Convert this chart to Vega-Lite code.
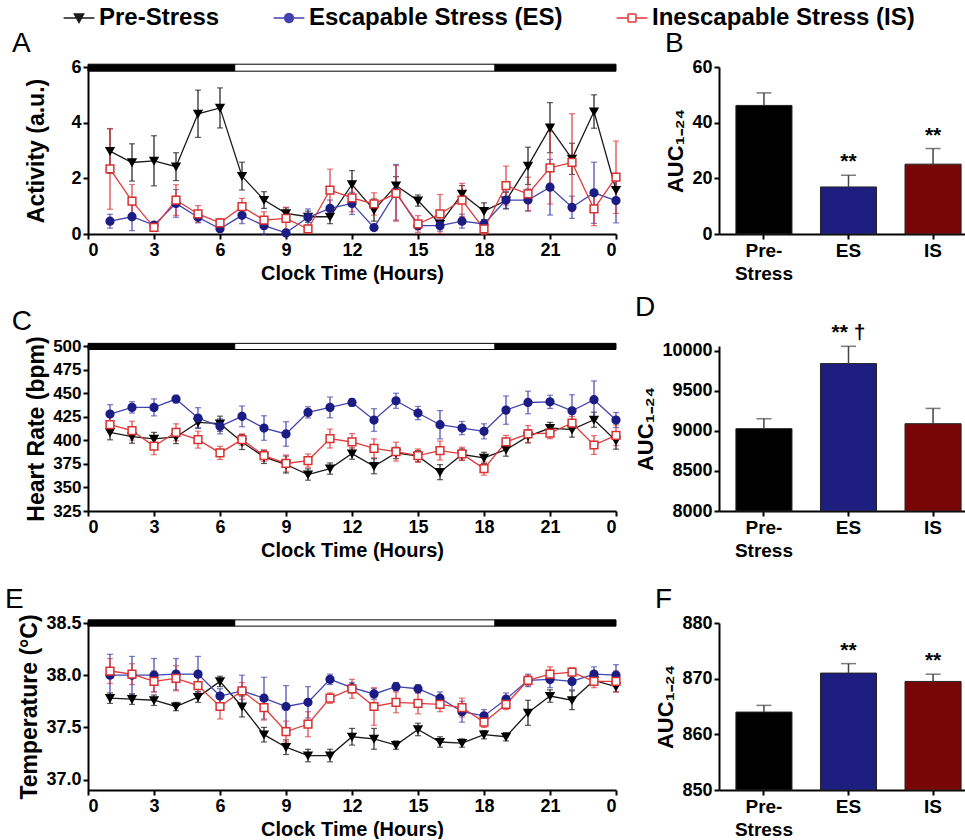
{
"$schema": "https://vega.github.io/schema/vega-lite/v6.json",
"padding": {"left": 4, "top": 6, "right": 0, "bottom": 0},
"config": {
 "font": "Liberation Sans",
 "view": {"stroke": null},
 "axis": {"domainColor": "black", "domainWidth": 2, "tickColor": "black", "tickWidth": 2, "tickSize": 5, "labelFontSize": 18, "labelFontWeight": "bold", "labelColor": "black", "titleFontSize": 20, "titleFontWeight": "bold", "titleColor": "black", "grid": false, "labelPadding": 2, "titlePadding": 4, "labelFont": "Liberation Sans", "titleFont": "Liberation Sans", "labelOverlap": false},
 "title": {"fontSize": 28, "font": "Liberation Sans", "fontWeight": "normal", "anchor": "start", "frame": "bounds", "offset": 0, "dy": 4, "color": "black"},
 "legend": {"layout": {"top": {"anchor": "middle"}}}
},
"datasets": {
 "lights": [{"start": 0, "end": 6.67, "phase": "dark"}, {"start": 6.67, "end": 18.5, "phase": "light"}, {"start": 18.5, "end": 24, "phase": "dark"}],
 "act": [
  {"hour":1,"group":"Pre-Stress","mean":2.98,"sem":0.8},{"hour":2,"group":"Pre-Stress","mean":2.57,"sem":0.67},{"hour":3,"group":"Pre-Stress","mean":2.63,"sem":0.9},{"hour":4,"group":"Pre-Stress","mean":2.42,"sem":0.5},{"hour":5,"group":"Pre-Stress","mean":4.32,"sem":0.85},{"hour":6,"group":"Pre-Stress","mean":4.53,"sem":0.72},{"hour":7,"group":"Pre-Stress","mean":2.08,"sem":0.5},{"hour":8,"group":"Pre-Stress","mean":1.22,"sem":0.3},{"hour":9,"group":"Pre-Stress","mean":0.74,"sem":0.2},{"hour":10,"group":"Pre-Stress","mean":0.62,"sem":0.2},{"hour":11,"group":"Pre-Stress","mean":0.62,"sem":0.25},{"hour":12,"group":"Pre-Stress","mean":1.78,"sem":0.5},{"hour":13,"group":"Pre-Stress","mean":0.86,"sem":0.4},{"hour":14,"group":"Pre-Stress","mean":1.74,"sem":0.32},{"hour":15,"group":"Pre-Stress","mean":1.2,"sem":0.2},{"hour":16,"group":"Pre-Stress","mean":0.36,"sem":0.15},{"hour":17,"group":"Pre-Stress","mean":1.44,"sem":0.3},{"hour":18,"group":"Pre-Stress","mean":0.82,"sem":0.3},{"hour":19,"group":"Pre-Stress","mean":1.2,"sem":0.3},{"hour":20,"group":"Pre-Stress","mean":2.45,"sem":0.67},{"hour":21,"group":"Pre-Stress","mean":3.82,"sem":0.9},{"hour":22,"group":"Pre-Stress","mean":2.7,"sem":0.56},{"hour":23,"group":"Pre-Stress","mean":4.4,"sem":0.6},{"hour":24,"group":"Pre-Stress","mean":1.58,"sem":0.4},
  {"hour":1,"group":"Escapable Stress (ES)","mean":0.46,"sem":0.25},{"hour":2,"group":"Escapable Stress (ES)","mean":0.62,"sem":0.5},{"hour":3,"group":"Escapable Stress (ES)","mean":0.32,"sem":0.1},{"hour":4,"group":"Escapable Stress (ES)","mean":1.1,"sem":0.5},{"hour":5,"group":"Escapable Stress (ES)","mean":0.6,"sem":0.2},{"hour":6,"group":"Escapable Stress (ES)","mean":0.19,"sem":0.1},{"hour":7,"group":"Escapable Stress (ES)","mean":0.67,"sem":0.3},{"hour":8,"group":"Escapable Stress (ES)","mean":0.3,"sem":0.3},{"hour":9,"group":"Escapable Stress (ES)","mean":0.04,"sem":0.05},{"hour":10,"group":"Escapable Stress (ES)","mean":0.6,"sem":0.3},{"hour":11,"group":"Escapable Stress (ES)","mean":0.92,"sem":0.3},{"hour":12,"group":"Escapable Stress (ES)","mean":1.1,"sem":0.4},{"hour":13,"group":"Escapable Stress (ES)","mean":0.23,"sem":0.1},{"hour":14,"group":"Escapable Stress (ES)","mean":1.5,"sem":1.0},{"hour":15,"group":"Escapable Stress (ES)","mean":0.3,"sem":0.15},{"hour":16,"group":"Escapable Stress (ES)","mean":0.3,"sem":0.2},{"hour":17,"group":"Escapable Stress (ES)","mean":0.46,"sem":0.25},{"hour":18,"group":"Escapable Stress (ES)","mean":0.36,"sem":0.15},{"hour":19,"group":"Escapable Stress (ES)","mean":1.22,"sem":0.3},{"hour":20,"group":"Escapable Stress (ES)","mean":1.22,"sem":0.4},{"hour":21,"group":"Escapable Stress (ES)","mean":1.68,"sem":1.0},{"hour":22,"group":"Escapable Stress (ES)","mean":0.96,"sem":0.4},{"hour":23,"group":"Escapable Stress (ES)","mean":1.48,"sem":1.1},{"hour":24,"group":"Escapable Stress (ES)","mean":1.2,"sem":0.8},
  {"hour":1,"group":"Inescapable Stress (IS)","mean":2.34,"sem":1.45},{"hour":2,"group":"Inescapable Stress (IS)","mean":1.18,"sem":0.6},{"hour":3,"group":"Inescapable Stress (IS)","mean":0.24,"sem":0.1},{"hour":4,"group":"Inescapable Stress (IS)","mean":1.22,"sem":0.55},{"hour":5,"group":"Inescapable Stress (IS)","mean":0.72,"sem":0.3},{"hour":6,"group":"Inescapable Stress (IS)","mean":0.4,"sem":0.15},{"hour":7,"group":"Inescapable Stress (IS)","mean":0.98,"sem":0.3},{"hour":8,"group":"Inescapable Stress (IS)","mean":0.5,"sem":0.3},{"hour":9,"group":"Inescapable Stress (IS)","mean":0.56,"sem":0.4},{"hour":10,"group":"Inescapable Stress (IS)","mean":0.18,"sem":0.1},{"hour":11,"group":"Inescapable Stress (IS)","mean":1.58,"sem":0.75},{"hour":12,"group":"Inescapable Stress (IS)","mean":1.3,"sem":0.5},{"hour":13,"group":"Inescapable Stress (IS)","mean":1.08,"sem":0.4},{"hour":14,"group":"Inescapable Stress (IS)","mean":1.46,"sem":1.0},{"hour":15,"group":"Inescapable Stress (IS)","mean":0.36,"sem":0.3},{"hour":16,"group":"Inescapable Stress (IS)","mean":0.72,"sem":0.7},{"hour":17,"group":"Inescapable Stress (IS)","mean":1.22,"sem":0.6},{"hour":18,"group":"Inescapable Stress (IS)","mean":0.18,"sem":0.2},{"hour":19,"group":"Inescapable Stress (IS)","mean":1.74,"sem":0.7},{"hour":20,"group":"Inescapable Stress (IS)","mean":1.44,"sem":0.6},{"hour":21,"group":"Inescapable Stress (IS)","mean":2.38,"sem":1.3},{"hour":22,"group":"Inescapable Stress (IS)","mean":2.57,"sem":1.75},{"hour":23,"group":"Inescapable Stress (IS)","mean":0.9,"sem":0.6},{"hour":24,"group":"Inescapable Stress (IS)","mean":2.04,"sem":1.3}
 ],
 "hr": [
  {"hour":1,"group":"Pre-Stress","mean":408.5,"sem":8},{"hour":2,"group":"Pre-Stress","mean":403.9,"sem":7},{"hour":3,"group":"Pre-Stress","mean":401.4,"sem":7},{"hour":4,"group":"Pre-Stress","mean":403.5,"sem":7},{"hour":5,"group":"Pre-Stress","mean":419,"sem":6},{"hour":6,"group":"Pre-Stress","mean":417.6,"sem":8},{"hour":7,"group":"Pre-Stress","mean":398.2,"sem":8},{"hour":8,"group":"Pre-Stress","mean":382.4,"sem":7},{"hour":9,"group":"Pre-Stress","mean":374.3,"sem":9},{"hour":10,"group":"Pre-Stress","mean":363.7,"sem":6},{"hour":11,"group":"Pre-Stress","mean":370,"sem":6},{"hour":12,"group":"Pre-Stress","mean":385.9,"sem":6},{"hour":13,"group":"Pre-Stress","mean":372.5,"sem":8},{"hour":14,"group":"Pre-Stress","mean":386.6,"sem":6},{"hour":15,"group":"Pre-Stress","mean":383.1,"sem":6},{"hour":16,"group":"Pre-Stress","mean":366.2,"sem":8},{"hour":17,"group":"Pre-Stress","mean":384.9,"sem":6},{"hour":18,"group":"Pre-Stress","mean":381.3,"sem":6},{"hour":19,"group":"Pre-Stress","mean":390.1,"sem":7},{"hour":20,"group":"Pre-Stress","mean":404.2,"sem":7},{"hour":21,"group":"Pre-Stress","mean":413,"sem":6},{"hour":22,"group":"Pre-Stress","mean":411.3,"sem":8},{"hour":23,"group":"Pre-Stress","mean":421.8,"sem":8},{"hour":24,"group":"Pre-Stress","mean":399.6,"sem":9},
  {"hour":1,"group":"Escapable Stress (ES)","mean":427.8,"sem":10},{"hour":2,"group":"Escapable Stress (ES)","mean":434.9,"sem":6},{"hour":3,"group":"Escapable Stress (ES)","mean":434.9,"sem":9},{"hour":4,"group":"Escapable Stress (ES)","mean":443.7,"sem":4},{"hour":5,"group":"Escapable Stress (ES)","mean":423.6,"sem":11},{"hour":6,"group":"Escapable Stress (ES)","mean":414.8,"sem":8},{"hour":7,"group":"Escapable Stress (ES)","mean":425.4,"sem":11},{"hour":8,"group":"Escapable Stress (ES)","mean":413,"sem":13},{"hour":9,"group":"Escapable Stress (ES)","mean":406.7,"sem":13},{"hour":10,"group":"Escapable Stress (ES)","mean":429.6,"sem":6},{"hour":11,"group":"Escapable Stress (ES)","mean":434.9,"sem":11},{"hour":12,"group":"Escapable Stress (ES)","mean":440.1,"sem":4},{"hour":13,"group":"Escapable Stress (ES)","mean":421.5,"sem":12},{"hour":14,"group":"Escapable Stress (ES)","mean":441.9,"sem":8},{"hour":15,"group":"Escapable Stress (ES)","mean":428.9,"sem":7},{"hour":16,"group":"Escapable Stress (ES)","mean":416.5,"sem":15},{"hour":17,"group":"Escapable Stress (ES)","mean":413,"sem":7},{"hour":18,"group":"Escapable Stress (ES)","mean":409.5,"sem":8},{"hour":19,"group":"Escapable Stress (ES)","mean":432,"sem":15},{"hour":20,"group":"Escapable Stress (ES)","mean":440.1,"sem":12},{"hour":21,"group":"Escapable Stress (ES)","mean":440.8,"sem":7},{"hour":22,"group":"Escapable Stress (ES)","mean":431.3,"sem":17},{"hour":23,"group":"Escapable Stress (ES)","mean":443,"sem":20},{"hour":24,"group":"Escapable Stress (ES)","mean":421.5,"sem":8},
  {"hour":1,"group":"Inescapable Stress (IS)","mean":416.5,"sem":8},{"hour":2,"group":"Inescapable Stress (IS)","mean":410.2,"sem":10},{"hour":3,"group":"Inescapable Stress (IS)","mean":393.7,"sem":9},{"hour":4,"group":"Inescapable Stress (IS)","mean":408.5,"sem":9},{"hour":5,"group":"Inescapable Stress (IS)","mean":400.7,"sem":9},{"hour":6,"group":"Inescapable Stress (IS)","mean":386.6,"sem":7},{"hour":7,"group":"Inescapable Stress (IS)","mean":400.7,"sem":6},{"hour":8,"group":"Inescapable Stress (IS)","mean":383.8,"sem":6},{"hour":9,"group":"Inescapable Stress (IS)","mean":375.4,"sem":9},{"hour":10,"group":"Inescapable Stress (IS)","mean":378.5,"sem":7},{"hour":11,"group":"Inescapable Stress (IS)","mean":401.8,"sem":10},{"hour":12,"group":"Inescapable Stress (IS)","mean":398.2,"sem":9},{"hour":13,"group":"Inescapable Stress (IS)","mean":391.5,"sem":10},{"hour":14,"group":"Inescapable Stress (IS)","mean":388,"sem":10},{"hour":15,"group":"Inescapable Stress (IS)","mean":383.8,"sem":7},{"hour":16,"group":"Inescapable Stress (IS)","mean":389.1,"sem":10},{"hour":17,"group":"Inescapable Stress (IS)","mean":385.6,"sem":7},{"hour":18,"group":"Inescapable Stress (IS)","mean":370,"sem":7},{"hour":19,"group":"Inescapable Stress (IS)","mean":398.2,"sem":7},{"hour":20,"group":"Inescapable Stress (IS)","mean":406.7,"sem":9},{"hour":21,"group":"Inescapable Stress (IS)","mean":407.7,"sem":6},{"hour":22,"group":"Inescapable Stress (IS)","mean":418.3,"sem":7},{"hour":23,"group":"Inescapable Stress (IS)","mean":395,"sem":10},{"hour":24,"group":"Inescapable Stress (IS)","mean":405.3,"sem":11}
 ],
 "temp": [
  {"hour":1,"group":"Pre-Stress","mean":37.78,"sem":0.05},{"hour":2,"group":"Pre-Stress","mean":37.77,"sem":0.05},{"hour":3,"group":"Pre-Stress","mean":37.76,"sem":0.05},{"hour":4,"group":"Pre-Stress","mean":37.7,"sem":0.04},{"hour":5,"group":"Pre-Stress","mean":37.79,"sem":0.05},{"hour":6,"group":"Pre-Stress","mean":37.94,"sem":0.05},{"hour":7,"group":"Pre-Stress","mean":37.7,"sem":0.1},{"hour":8,"group":"Pre-Stress","mean":37.43,"sem":0.07},{"hour":9,"group":"Pre-Stress","mean":37.31,"sem":0.07},{"hour":10,"group":"Pre-Stress","mean":37.23,"sem":0.06},{"hour":11,"group":"Pre-Stress","mean":37.23,"sem":0.06},{"hour":12,"group":"Pre-Stress","mean":37.41,"sem":0.08},{"hour":13,"group":"Pre-Stress","mean":37.39,"sem":0.1},{"hour":14,"group":"Pre-Stress","mean":37.33,"sem":0.04},{"hour":15,"group":"Pre-Stress","mean":37.48,"sem":0.06},{"hour":16,"group":"Pre-Stress","mean":37.36,"sem":0.05},{"hour":17,"group":"Pre-Stress","mean":37.35,"sem":0.04},{"hour":18,"group":"Pre-Stress","mean":37.43,"sem":0.04},{"hour":19,"group":"Pre-Stress","mean":37.41,"sem":0.04},{"hour":20,"group":"Pre-Stress","mean":37.64,"sem":0.12},{"hour":21,"group":"Pre-Stress","mean":37.8,"sem":0.06},{"hour":22,"group":"Pre-Stress","mean":37.76,"sem":0.09},{"hour":23,"group":"Pre-Stress","mean":37.95,"sem":0.03},{"hour":24,"group":"Pre-Stress","mean":37.89,"sem":0.05},
  {"hour":1,"group":"Escapable Stress (ES)","mean":38.0,"sem":0.2},{"hour":2,"group":"Escapable Stress (ES)","mean":38.0,"sem":0.18},{"hour":3,"group":"Escapable Stress (ES)","mean":38.0,"sem":0.16},{"hour":4,"group":"Escapable Stress (ES)","mean":38.01,"sem":0.15},{"hour":5,"group":"Escapable Stress (ES)","mean":38.01,"sem":0.17},{"hour":6,"group":"Escapable Stress (ES)","mean":37.8,"sem":0.07},{"hour":7,"group":"Escapable Stress (ES)","mean":37.85,"sem":0.15},{"hour":8,"group":"Escapable Stress (ES)","mean":37.78,"sem":0.2},{"hour":9,"group":"Escapable Stress (ES)","mean":37.7,"sem":0.2},{"hour":10,"group":"Escapable Stress (ES)","mean":37.74,"sem":0.15},{"hour":11,"group":"Escapable Stress (ES)","mean":37.96,"sem":0.05},{"hour":12,"group":"Escapable Stress (ES)","mean":37.88,"sem":0.05},{"hour":13,"group":"Escapable Stress (ES)","mean":37.82,"sem":0.05},{"hour":14,"group":"Escapable Stress (ES)","mean":37.89,"sem":0.04},{"hour":15,"group":"Escapable Stress (ES)","mean":37.87,"sem":0.04},{"hour":16,"group":"Escapable Stress (ES)","mean":37.78,"sem":0.06},{"hour":17,"group":"Escapable Stress (ES)","mean":37.65,"sem":0.1},{"hour":18,"group":"Escapable Stress (ES)","mean":37.61,"sem":0.06},{"hour":19,"group":"Escapable Stress (ES)","mean":37.77,"sem":0.06},{"hour":20,"group":"Escapable Stress (ES)","mean":37.95,"sem":0.06},{"hour":21,"group":"Escapable Stress (ES)","mean":37.96,"sem":0.08},{"hour":22,"group":"Escapable Stress (ES)","mean":37.94,"sem":0.08},{"hour":23,"group":"Escapable Stress (ES)","mean":38.01,"sem":0.07},{"hour":24,"group":"Escapable Stress (ES)","mean":38.0,"sem":0.1},
  {"hour":1,"group":"Inescapable Stress (IS)","mean":38.04,"sem":0.12},{"hour":2,"group":"Inescapable Stress (IS)","mean":38.01,"sem":0.1},{"hour":3,"group":"Inescapable Stress (IS)","mean":37.94,"sem":0.1},{"hour":4,"group":"Inescapable Stress (IS)","mean":37.97,"sem":0.12},{"hour":5,"group":"Inescapable Stress (IS)","mean":37.9,"sem":0.1},{"hour":6,"group":"Inescapable Stress (IS)","mean":37.7,"sem":0.12},{"hour":7,"group":"Inescapable Stress (IS)","mean":37.85,"sem":0.08},{"hour":8,"group":"Inescapable Stress (IS)","mean":37.69,"sem":0.12},{"hour":9,"group":"Inescapable Stress (IS)","mean":37.46,"sem":0.1},{"hour":10,"group":"Inescapable Stress (IS)","mean":37.53,"sem":0.12},{"hour":11,"group":"Inescapable Stress (IS)","mean":37.78,"sem":0.05},{"hour":12,"group":"Inescapable Stress (IS)","mean":37.87,"sem":0.09},{"hour":13,"group":"Inescapable Stress (IS)","mean":37.7,"sem":0.18},{"hour":14,"group":"Inescapable Stress (IS)","mean":37.74,"sem":0.1},{"hour":15,"group":"Inescapable Stress (IS)","mean":37.73,"sem":0.1},{"hour":16,"group":"Inescapable Stress (IS)","mean":37.72,"sem":0.07},{"hour":17,"group":"Inescapable Stress (IS)","mean":37.69,"sem":0.09},{"hour":18,"group":"Inescapable Stress (IS)","mean":37.55,"sem":0.05},{"hour":19,"group":"Inescapable Stress (IS)","mean":37.72,"sem":0.05},{"hour":20,"group":"Inescapable Stress (IS)","mean":37.95,"sem":0.05},{"hour":21,"group":"Inescapable Stress (IS)","mean":38.01,"sem":0.07},{"hour":22,"group":"Inescapable Stress (IS)","mean":38.03,"sem":0.04},{"hour":23,"group":"Inescapable Stress (IS)","mean":37.94,"sem":0.06},{"hour":24,"group":"Inescapable Stress (IS)","mean":37.94,"sem":0.1}
 ],
 "aucAct": [{"cond": "Pre-Stress", "auc": 46.2, "hi": 50.7, "sig": ""}, {"cond": "ES", "auc": 16.9, "hi": 21.1, "sig": "**"}, {"cond": "IS", "auc": 25.1, "hi": 30.7, "sig": "**"}],
 "aucHR": [{"cond": "Pre-Stress", "auc": 9029, "hi": 9153, "sig": ""}, {"cond": "ES", "auc": 9842, "hi": 10058, "sig": "** †"}, {"cond": "IS", "auc": 9091, "hi": 9282, "sig": ""}],
 "aucTemp": [{"cond": "Pre-Stress", "auc": 864.0, "hi": 865.2, "sig": ""}, {"cond": "ES", "auc": 871.0, "hi": 872.7, "sig": "**"}, {"cond": "IS", "auc": 869.5, "hi": 870.8, "sig": "**"}]
},
"columns": 2,
"align": "each",
"bounds": "flush",
"spacing": {"row": 112, "column": 103},
"resolve": {"scale": {"x": "independent", "y": "independent"}},
"concat": [
 {
  "width": 528, "height": 167,
  "title": {"text": "A", "dx": -14},
  "layer": [
   {"data": {"name": "lights"}, "mark": {"type": "rect", "stroke": "black", "strokeWidth": 1},
    "encoding": {
     "x": {"field": "start", "type": "quantitative", "title": "Clock Time (Hours)", "scale": {"domain": [0, 24], "nice": false}, "axis": {"values": [0,3,6,9,12,15,18,21,24], "tickCount": 30, "format": "d", "labelExpr": "datum.value == 24 ? '0' : datum.label", "labelOverlap": false}},
     "x2": {"field": "end"},
     "y": {"datum": 6.1, "type": "quantitative", "title": "Activity (a.u.)", "scale": {"domain": [0, 6], "nice": false, "zero": false}, "axis": {"values": [0,2,4,6], "tickCount": 30, "format": "d", "titleFontSize": 23, "titlePadding": 22, "labelOverlap": false}},
     "y2": {"datum": 5.85},
     "fill": {"condition": {"test": "datum.phase === 'light'", "value": "white"}, "value": "black"}
    }},
   {"data": {"name": "act"}, "mark": {"type": "errorbar", "ticks": {"size": 6}, "thickness": 1.2},
    "encoding": {
     "x": {"field": "hour", "type": "quantitative", "title": "Clock Time (Hours)"},
     "y": {"field": "mean", "type": "quantitative", "title": "Activity (a.u.)"},
     "yError": {"field": "sem"},
     "color": {"field": "group", "type": "nominal", "sort": null,
      "scale": {"domain": ["Pre-Stress", "Escapable Stress (ES)", "Inescapable Stress (IS)"], "range": ["#1a1a1a", "#4242b0", "#e0393a"]},
      "legend": {"title": null, "orient": "top", "direction": "horizontal", "symbolSize": 484, "labelFontSize": 24, "labelFont": "Liberation Sans", "labelFontWeight": "bold", "labelColor": "black", "columnPadding": 50, "labelOffset": 8, "labelLimit": 500, "symbolStrokeWidth": 1.5, "symbolOpacity": 1, "offset": 0}
     }
    }},
   {"data": {"name": "act"}, "mark": {"type": "line", "strokeWidth": 1.3},
    "encoding": {
     "x": {"field": "hour", "type": "quantitative", "title": "Clock Time (Hours)"},
     "y": {"field": "mean", "type": "quantitative", "title": "Activity (a.u.)"},
     "color": {"field": "group", "type": "nominal", "sort": null}
    }},
   {"data": {"name": "act"}, "mark": {"type": "point", "size": 60, "strokeWidth": 1.5, "opacity": 1},
    "encoding": {
     "x": {"field": "hour", "type": "quantitative", "title": "Clock Time (Hours)"},
     "y": {"field": "mean", "type": "quantitative", "title": "Activity (a.u.)"},
     "shape": {"condition": [{"test": "datum.group === 'Pre-Stress'", "value": "triangle-down"}, {"test": "datum.group === 'Escapable Stress (ES)'", "value": "circle"}], "value": "square"},
     "fill": {"condition": [{"test": "datum.group === 'Pre-Stress'", "value": "black"}, {"test": "datum.group === 'Escapable Stress (ES)'", "value": "#1c1c85"}], "value": "white"},
     "stroke": {"condition": [{"test": "datum.group === 'Pre-Stress'", "value": "black"}, {"test": "datum.group === 'Escapable Stress (ES)'", "value": "#1c1c85"}], "value": "#d93030"}
    }},
   {"data": {"name": "act"}, "mark": {"type": "point", "filled": false, "opacity": 0, "size": 10},
    "encoding": {
     "x": {"field": "hour", "type": "quantitative", "title": "Clock Time (Hours)"},
     "y": {"field": "mean", "type": "quantitative", "title": "Activity (a.u.)"},
     "color": {"field": "group", "type": "nominal", "sort": null},
     "shape": {"field": "group", "type": "nominal", "sort": null,
      "scale": {"domain": ["Pre-Stress", "Escapable Stress (ES)", "Inescapable Stress (IS)"], "range": [
       "M-1.4,0H1.4M-0.42,-0.36H0.42L0,0.4ZM-0.28,-0.27H0.28L0,0.22ZM-0.14,-0.19H0.14L0,0.05Z",
       "M-1.4,0H1.4M-0.4,0A0.4,0.4,0,1,0,0.4,0A0.4,0.4,0,1,0,-0.4,0ZM-0.27,0A0.27,0.27,0,1,0,0.27,0A0.27,0.27,0,1,0,-0.27,0ZM-0.14,0A0.14,0.14,0,1,0,0.14,0A0.14,0.14,0,1,0,-0.14,0Z",
       "M-1.4,0H-0.36M0.36,0H1.4M-0.36,-0.36H0.36M0.36,-0.36V0.36M0.36,0.36H-0.36M-0.36,0.36V-0.36"]},
      "legend": {"title": null, "orient": "top", "direction": "horizontal", "symbolSize": 484, "labelFontSize": 24, "labelFont": "Liberation Sans", "labelFontWeight": "bold", "labelColor": "black", "columnPadding": 50, "labelOffset": 8, "labelLimit": 500, "symbolStrokeWidth": 1.5, "symbolOpacity": 1, "offset": 0}}
    }}
  ]
 },
 {
  "width": 259, "height": 167,
  "title": {"text": "B"},
  "data": {"name": "aucAct"},
  "encoding": {"x": {"field": "cond", "type": "nominal", "sort": null, "scale": {"paddingInner": 0.337, "paddingOuter": 0.2}, "axis": {"title": null, "labelAngle": 0, "labelFontSize": 19, "labelLineHeight": 23, "labelExpr": "datum.value === 'Pre-Stress' ? ['Pre-', 'Stress'] : datum.value"}}},
  "layer": [
   {"mark": {"type": "bar", "stroke": "#222", "strokeWidth": 1},
    "encoding": {"y": {"field": "auc", "type": "quantitative", "title": "AUC₁₋₂₄", "scale": {"domain": [0, 60], "nice": false}, "axis": {"values": [0, 20, 40, 60], "tickCount": 30, "format": "d", "titleFontSize": 22, "labelOverlap": false}},
     "fill": {"field": "cond", "type": "nominal", "legend": null, "scale": {"domain": ["Pre-Stress", "ES", "IS"], "range": ["#000000", "#1e1e80", "#780606"]}}}},
   {"mark": {"type": "rule", "color": "#444", "strokeWidth": 1.5}, "encoding": {"y": {"field": "auc", "type": "quantitative", "title": "AUC₁₋₂₄"}, "y2": {"field": "hi"}}},
   {"mark": {"type": "tick", "color": "#444", "thickness": 1.5, "size": 15}, "encoding": {"y": {"field": "hi", "type": "quantitative", "title": "AUC₁₋₂₄"}}},
   {"mark": {"type": "text", "fontSize": 21, "fontWeight": "bold", "baseline": "bottom", "dy": -3, "color": "black"}, "encoding": {"y": {"field": "hi", "type": "quantitative", "title": "AUC₁₋₂₄"}, "text": {"field": "sig"}}}
  ]
 },
 {
  "width": 528, "height": 165,
  "title": {"text": "C", "dx": -14},
  "layer": [
   {"data": {"name": "lights"}, "mark": {"type": "rect", "stroke": "black", "strokeWidth": 1},
    "encoding": {
     "x": {"field": "start", "type": "quantitative", "title": "Clock Time (Hours)", "scale": {"domain": [0, 24], "nice": false}, "axis": {"values": [0,3,6,9,12,15,18,21,24], "tickCount": 30, "format": "d", "labelExpr": "datum.value == 24 ? '0' : datum.label", "labelOverlap": false}},
     "x2": {"field": "end"},
     "y": {"datum": 502.8, "type": "quantitative", "title": "Heart Rate (bpm)", "scale": {"domain": [325, 500], "nice": false, "zero": false}, "axis": {"values": [325,350,375,400,425,450,475,500], "tickCount": 30, "format": "d", "titleFontSize": 23, "labelOverlap": false, "labelFontSize": 17}},
     "y2": {"datum": 496.3},
     "fill": {"condition": {"test": "datum.phase === 'light'", "value": "white"}, "value": "black"}
    }},
   {"data": {"name": "hr"}, "mark": {"type": "errorbar", "ticks": {"size": 6}, "thickness": 1.2},
    "encoding": {
     "x": {"field": "hour", "type": "quantitative", "title": "Clock Time (Hours)"},
     "y": {"field": "mean", "type": "quantitative", "title": "Heart Rate (bpm)"},
     "yError": {"field": "sem"},
     "color": {"field": "group", "type": "nominal", "sort": null}
    }},
   {"data": {"name": "hr"}, "mark": {"type": "line", "strokeWidth": 1.3},
    "encoding": {
     "x": {"field": "hour", "type": "quantitative", "title": "Clock Time (Hours)"},
     "y": {"field": "mean", "type": "quantitative", "title": "Heart Rate (bpm)"},
     "color": {"field": "group", "type": "nominal", "sort": null}
    }},
   {"data": {"name": "hr"}, "mark": {"type": "point", "size": 60, "strokeWidth": 1.5, "opacity": 1},
    "encoding": {
     "x": {"field": "hour", "type": "quantitative", "title": "Clock Time (Hours)"},
     "y": {"field": "mean", "type": "quantitative", "title": "Heart Rate (bpm)"},
     "shape": {"condition": [{"test": "datum.group === 'Pre-Stress'", "value": "triangle-down"}, {"test": "datum.group === 'Escapable Stress (ES)'", "value": "circle"}], "value": "square"},
     "fill": {"condition": [{"test": "datum.group === 'Pre-Stress'", "value": "black"}, {"test": "datum.group === 'Escapable Stress (ES)'", "value": "#1c1c85"}], "value": "white"},
     "stroke": {"condition": [{"test": "datum.group === 'Pre-Stress'", "value": "black"}, {"test": "datum.group === 'Escapable Stress (ES)'", "value": "#1c1c85"}], "value": "#d93030"}
    }}
  ]
 },
 {
  "width": 259, "height": 165,
  "title": {"text": "D"},
  "data": {"name": "aucHR"},
  "encoding": {"x": {"field": "cond", "type": "nominal", "sort": null, "scale": {"paddingInner": 0.337, "paddingOuter": 0.2}, "axis": {"title": null, "labelAngle": 0, "labelFontSize": 19, "labelLineHeight": 23, "labelExpr": "datum.value === 'Pre-Stress' ? ['Pre-', 'Stress'] : datum.value"}}},
  "layer": [
   {"mark": {"type": "bar", "stroke": "#222", "strokeWidth": 1},
    "encoding": {"y": {"field": "auc", "type": "quantitative", "title": "AUC₁₋₂₄", "scale": {"domain": [8000, 10062], "nice": false, "zero": false}, "axis": {"values": [8000, 8500, 9000, 9500, 10000], "tickCount": 30, "format": "d", "titleFontSize": 22, "labelOverlap": false}},
     "y2": {"datum": 8000},
     "fill": {"field": "cond", "type": "nominal", "legend": null}}},
   {"mark": {"type": "rule", "color": "#444", "strokeWidth": 1.5}, "encoding": {"y": {"field": "auc", "type": "quantitative", "title": "AUC₁₋₂₄"}, "y2": {"field": "hi"}}},
   {"mark": {"type": "tick", "color": "#444", "thickness": 1.5, "size": 15}, "encoding": {"y": {"field": "hi", "type": "quantitative", "title": "AUC₁₋₂₄"}}},
   {"mark": {"type": "text", "fontSize": 21, "fontWeight": "bold", "baseline": "bottom", "dy": -3, "color": "black"}, "encoding": {"y": {"field": "hi", "type": "quantitative", "title": "AUC₁₋₂₄"}, "text": {"field": "sig"}}}
  ]
 },
 {
  "width": 528, "height": 167,
  "title": {"text": "E", "dx": -14},
  "layer": [
   {"data": {"name": "lights"}, "mark": {"type": "rect", "stroke": "black", "strokeWidth": 1},
    "encoding": {
     "x": {"field": "start", "type": "quantitative", "title": "Clock Time (Hours)", "scale": {"domain": [0, 24], "nice": false}, "axis": {"values": [0,3,6,9,12,15,18,21,24], "tickCount": 30, "format": "d", "labelExpr": "datum.value == 24 ? '0' : datum.label", "labelOverlap": false}},
     "x2": {"field": "end"},
     "y": {"datum": 38.53, "type": "quantitative", "title": "Temperature (°C)", "scale": {"domain": [36.9, 38.5], "nice": false, "zero": false}, "axis": {"values": [37, 37.5, 38, 38.5], "tickCount": 30, "format": ".1f", "titleFontSize": 23, "labelOverlap": false}},
     "y2": {"datum": 38.47},
     "fill": {"condition": {"test": "datum.phase === 'light'", "value": "white"}, "value": "black"}
    }},
   {"data": {"name": "temp"}, "mark": {"type": "errorbar", "ticks": {"size": 6}, "thickness": 1.2},
    "encoding": {
     "x": {"field": "hour", "type": "quantitative", "title": "Clock Time (Hours)"},
     "y": {"field": "mean", "type": "quantitative", "title": "Temperature (°C)"},
     "yError": {"field": "sem"},
     "color": {"field": "group", "type": "nominal", "sort": null}
    }},
   {"data": {"name": "temp"}, "mark": {"type": "line", "strokeWidth": 1.3},
    "encoding": {
     "x": {"field": "hour", "type": "quantitative", "title": "Clock Time (Hours)"},
     "y": {"field": "mean", "type": "quantitative", "title": "Temperature (°C)"},
     "color": {"field": "group", "type": "nominal", "sort": null}
    }},
   {"data": {"name": "temp"}, "mark": {"type": "point", "size": 60, "strokeWidth": 1.5, "opacity": 1},
    "encoding": {
     "x": {"field": "hour", "type": "quantitative", "title": "Clock Time (Hours)"},
     "y": {"field": "mean", "type": "quantitative", "title": "Temperature (°C)"},
     "shape": {"condition": [{"test": "datum.group === 'Pre-Stress'", "value": "triangle-down"}, {"test": "datum.group === 'Escapable Stress (ES)'", "value": "circle"}], "value": "square"},
     "fill": {"condition": [{"test": "datum.group === 'Pre-Stress'", "value": "black"}, {"test": "datum.group === 'Escapable Stress (ES)'", "value": "#1c1c85"}], "value": "white"},
     "stroke": {"condition": [{"test": "datum.group === 'Pre-Stress'", "value": "black"}, {"test": "datum.group === 'Escapable Stress (ES)'", "value": "#1c1c85"}], "value": "#d93030"}
    }}
  ]
 },
 {
  "width": 259, "height": 167,
  "title": {"text": "F"},
  "data": {"name": "aucTemp"},
  "encoding": {"x": {"field": "cond", "type": "nominal", "sort": null, "scale": {"paddingInner": 0.337, "paddingOuter": 0.2}, "axis": {"title": null, "labelAngle": 0, "labelFontSize": 19, "labelLineHeight": 23, "labelExpr": "datum.value === 'Pre-Stress' ? ['Pre-', 'Stress'] : datum.value"}}},
  "layer": [
   {"mark": {"type": "bar", "stroke": "#222", "strokeWidth": 1},
    "encoding": {"y": {"field": "auc", "type": "quantitative", "title": "AUC₁₋₂₄", "scale": {"domain": [850, 880], "nice": false, "zero": false}, "axis": {"values": [850, 860, 870, 880], "tickCount": 30, "format": "d", "titleFontSize": 22, "labelOverlap": false}},
     "y2": {"datum": 850},
     "fill": {"field": "cond", "type": "nominal", "legend": null}}},
   {"mark": {"type": "rule", "color": "#444", "strokeWidth": 1.5}, "encoding": {"y": {"field": "auc", "type": "quantitative", "title": "AUC₁₋₂₄"}, "y2": {"field": "hi"}}},
   {"mark": {"type": "tick", "color": "#444", "thickness": 1.5, "size": 15}, "encoding": {"y": {"field": "hi", "type": "quantitative", "title": "AUC₁₋₂₄"}}},
   {"mark": {"type": "text", "fontSize": 21, "fontWeight": "bold", "baseline": "bottom", "dy": -3, "color": "black"}, "encoding": {"y": {"field": "hi", "type": "quantitative", "title": "AUC₁₋₂₄"}, "text": {"field": "sig"}}}
  ]
 }
]
}
